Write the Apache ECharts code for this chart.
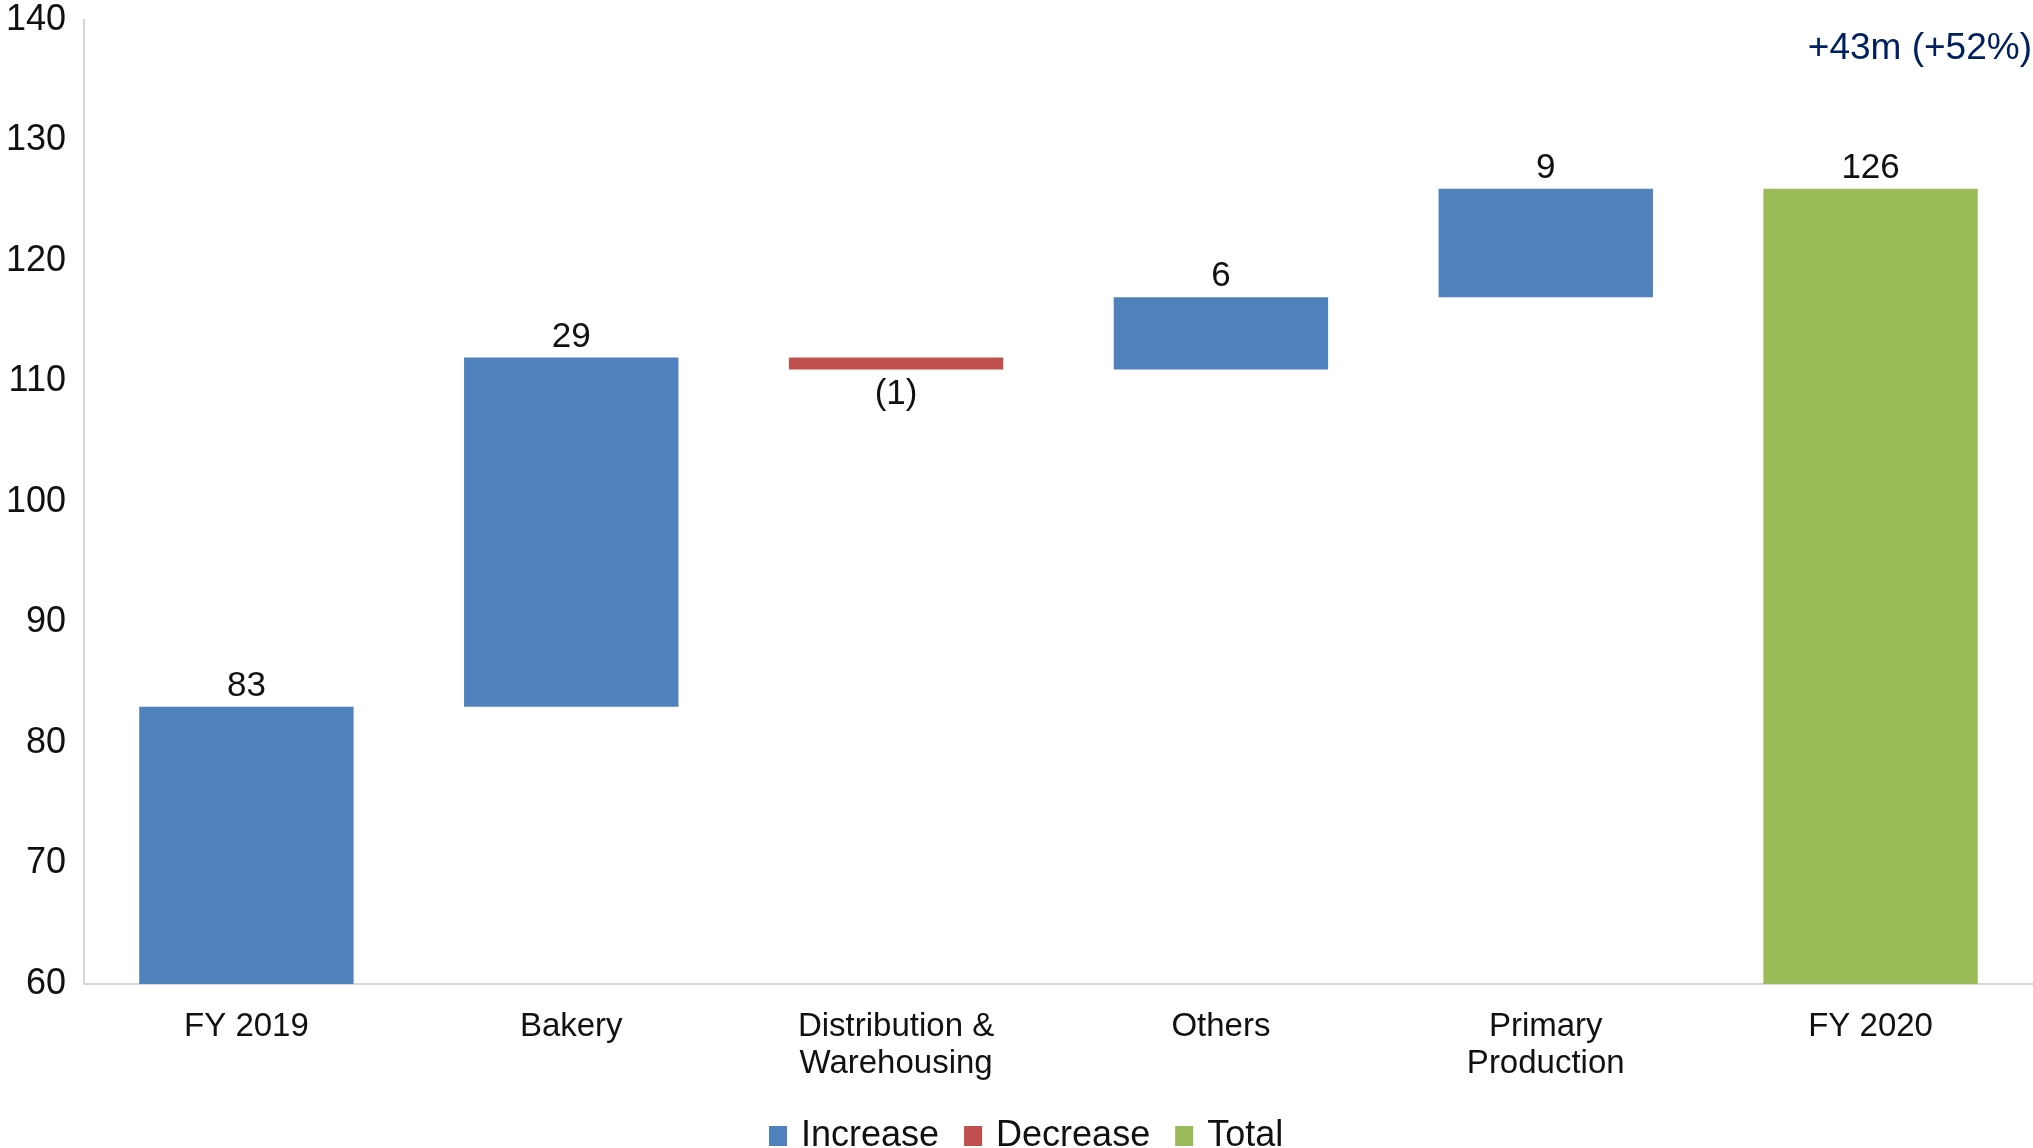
<!DOCTYPE html>
<html>
<head>
<meta charset="utf-8">
<script src="https://cdn.jsdelivr.net/npm/echarts@6/dist/echarts.min.js"></script>
<style>
  html, body { margin: 0; padding: 0; background: #ffffff; }
  #chart { width: 2033px; height: 1148px; }
</style>
</head>
<body>
<div id="chart"></div>
<script>
// ---- Data ----
var categories = ['FY 2019', 'Bakery', 'Distribution &\nWarehousing', 'Others', 'Primary\nProduction', 'FY 2020'];
var changes = [83, 29, -1, 6, 9, 126];
var kinds = ['increase', 'increase', 'decrease', 'increase', 'increase', 'total'];
var yTicks = { min: 60, max: 140, interval: 10 };
var annotationText = '+43m (+52%)';
var legendNames = ['Increase', 'Decrease', 'Total'];

// ---- Build waterfall stacks ----
var baseData = [], incData = [], decData = [], totData = [];
var running = 0;
for (var i = 0; i < changes.length; i++) {
  var v = changes[i];
  if (kinds[i] === 'total') {
    baseData.push(0); incData.push('-'); decData.push('-'); totData.push(v);
    running = v;
  } else if (v >= 0) {
    baseData.push(running); incData.push(v); decData.push('-'); totData.push('-');
    running += v;
  } else {
    running += v;
    baseData.push(running); incData.push('-'); decData.push(-v); totData.push('-');
  }
}

var FONT = '"Liberation Sans", Arial, sans-serif';
var chart = echarts.init(document.getElementById('chart'));
var labelStyle = { show: true, fontFamily: FONT, fontSize: 35, color: '#111', distance: 3 };

chart.setOption({
  animation: false,
  backgroundColor: '#ffffff',
  grid: { left: 84, right: 0, top: 20, bottom: 164, containLabel: false },
  legend: {
    data: legendNames,
    left: 769,
    top: 1115,
    padding: 0,
    icon: 'rect',
    itemWidth: 18,
    itemHeight: 20,
    itemGap: 25,
    textStyle: { fontFamily: FONT, fontSize: 36, color: '#111', padding: [0, 0, 0, 9], lineHeight: 42 }
  },
  xAxis: {
    type: 'category',
    data: categories,
    axisLine: { show: true, lineStyle: { color: '#d6d6d6', width: 2 } },
    axisTick: { show: false },
    axisLabel: { interval: 0, fontFamily: FONT, fontSize: 33, lineHeight: 37, color: '#111', margin: 24 }
  },
  yAxis: {
    type: 'value',
    min: yTicks.min, max: yTicks.max, interval: yTicks.interval,
    axisLine: { show: true, lineStyle: { color: '#d6d6d6', width: 2 } },
    axisTick: { show: false },
    splitLine: { show: false },
    axisLabel: { fontFamily: FONT, fontSize: 36, color: '#111', margin: 18 }
  },
  graphic: [{
    type: 'text',
    right: 1,
    top: 30,
    style: { text: annotationText, font: '37px "Liberation Sans", Arial, sans-serif', fill: '#002060' }
  }],
  series: [
    { name: 'base', type: 'bar', stack: 'w', data: baseData, barWidth: '66%',
      itemStyle: { color: 'transparent' }, emphasis: { disabled: true }, silent: true },
    { name: 'Increase', type: 'bar', stack: 'w', data: incData, barWidth: '66%',
      itemStyle: { color: '#4F81BD' },
      label: Object.assign({}, labelStyle, { position: 'top' }) },
    { name: 'Decrease', type: 'bar', stack: 'w', data: decData, barWidth: '66%',
      itemStyle: { color: '#C0504D' },
      label: Object.assign({}, labelStyle, { position: 'bottom', distance: 7,
        formatter: function (p) { return '(' + p.value + ')'; } }) },
    { name: 'Total', type: 'bar', stack: 'w', data: totData, barWidth: '66%',
      itemStyle: { color: '#9BBB59' },
      label: Object.assign({}, labelStyle, { position: 'top' }) }
  ]
});
</script>
</body>
</html>
